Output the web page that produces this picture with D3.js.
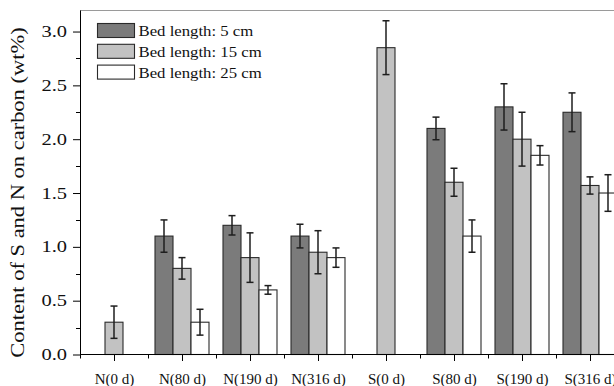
<!DOCTYPE html>
<html>
<head>
<meta charset="utf-8">
<script src="https://cdn.jsdelivr.net/npm/d3@7"></script>
<style>
  body { margin: 0; background: #fff; }
  text { font-family: "Liberation Serif", "Times New Roman", serif; fill: #111; }
</style>
</head>
<body>
<svg width="614" height="386"></svg>
<script>
// categories on the x axis
var categories = ["N(0 d)", "N(80 d)", "N(190 d)", "N(316 d)", "S(0 d)", "S(80 d)", "S(190 d)", "S(316 d)"];
var seriesNames = ["Bed length: 5 cm", "Bed length: 15 cm", "Bed length: 25 cm"];

// bar heights (wt%), null = no bar
var len5  = [null, 1.10, 1.20, 1.10, null, 2.10, 2.30, 2.25];
var len15 = [0.30, 0.80, 0.90, 0.95, 2.85, 1.60, 2.00, 1.57];
var len25 = [null, 0.30, 0.60, 0.90, null, 1.10, 1.85, 1.50];

// error bar half-lengths
var err5  = [null, 0.15, 0.09, 0.11, null, 0.105, 0.215, 0.18];
var err15 = [0.15, 0.10, 0.23, 0.20, 0.25, 0.13, 0.25, 0.08];
var err25 = [null, 0.12, 0.04, 0.09, null, 0.15, 0.09, 0.17];

var yTicks = [0, 0.5, 1.0, 1.5, 2.0, 2.5, 3.0];
var yMinor = [0.25, 0.75, 1.25, 1.75, 2.25, 2.75];

var fills = ["#7b7b7b", "#c2c2c2", "#ffffff"];

(function() {
  var svg = d3.select("svg");
  var mLeft = 80, mBottom = 354.5, mTop = 10, mRight = 624;

  // build rows
  var values = [len5, len15, len25], errs = [err5, err15, err25];
  var data = categories.map(function(c, i) {
    return {
      cat: c,
      bars: seriesNames.map(function(s, k) {
        return { series: s, k: k, value: values[k][i], err: errs[k][i] };
      }).filter(function(b) { return b.value != null; })
    };
  });

  var x0 = d3.scaleBand().domain(categories).range([mLeft, mRight]).padding(0);
  var x1 = d3.scaleBand().domain(seriesNames).range([0, x0.bandwidth()]).paddingOuter(0.389).paddingInner(0);
  var y = d3.scaleLinear().domain([0, 3.2]).range([mBottom, mTop]);

  // frame top line
  svg.append("line")
     .attr("x1", mLeft).attr("x2", mRight)
     .attr("y1", mTop + 0.5).attr("y2", mTop + 0.5)
     .attr("stroke", "#9a9a9a").attr("stroke-width", 1);

  // bars
  var groups = svg.selectAll(".grp")
    .data(data)
    .enter()
    .append("g")
    .attr("class", "grp")
    .attr("transform", function(d) { return "translate(" + x0(d.cat) + ",0)"; });

  groups.selectAll("rect")
    .data(function(d) { return d.bars; })
    .enter()
    .append("rect")
    .attr("x", function(b) { return x1(b.series); })
    .attr("y", function(b) { return y(b.value); })
    .attr("width", x1.bandwidth())
    .attr("height", function(b) { return mBottom - y(b.value); })
    .attr("fill", function(b) { return fills[b.k]; })
    .attr("stroke", "#2a2a2a")
    .attr("stroke-width", 1.1);

  // error bars
  var eb = groups.selectAll(".err")
    .data(function(d) { return d.bars; })
    .enter()
    .append("g")
    .attr("class", "err")
    .attr("stroke", "#1e1e1e")
    .attr("stroke-width", 1.5);

  function cx(b) { return x1(b.series) + x1.bandwidth() / 2; }
  eb.append("line")
    .attr("x1", cx).attr("x2", cx)
    .attr("y1", function(b) { return y(b.value + b.err); })
    .attr("y2", function(b) { return y(b.value - b.err); });
  eb.append("line")
    .attr("x1", function(b) { return cx(b) - 3.5; }).attr("x2", function(b) { return cx(b) + 3.5; })
    .attr("y1", function(b) { return y(b.value + b.err); })
    .attr("y2", function(b) { return y(b.value + b.err); });
  eb.append("line")
    .attr("x1", function(b) { return cx(b) - 3.5; }).attr("x2", function(b) { return cx(b) + 3.5; })
    .attr("y1", function(b) { return y(b.value - b.err); })
    .attr("y2", function(b) { return y(b.value - b.err); });

  // y axis
  var tickSx = 1.28;
  var yAxis = svg.append("g")
    .attr("transform", "translate(" + mLeft + ",0)")
    .call(d3.axisLeft(y).tickValues(yTicks).tickFormat(d3.format(".1f")).tickSize(7).tickSizeOuter(0));
  yAxis.selectAll("text")
    .attr("x", -13 / tickSx)
    .attr("transform", "scale(" + tickSx + ",1)")
    .style("font-size", "16px")
    .style("font-family", "Liberation Serif");

  yAxis.selectAll(".minor")
    .data(yMinor)
    .enter()
    .append("line")
    .attr("class", "minor")
    .attr("x1", -4).attr("x2", 0)
    .attr("y1", function(d) { return Math.round(y(d)) + 0.5; })
    .attr("y2", function(d) { return Math.round(y(d)) + 0.5; })
    .attr("stroke", "#000");

  // x axis
  var xCenter = d3.scalePoint().domain(categories)
    .range([x0(categories[0]) + x0.bandwidth() / 2, x0(categories[categories.length - 1]) + x0.bandwidth() / 2]);
  var xAxis = svg.append("g")
    .attr("transform", "translate(0," + (mBottom - 0.5) + ")")
    .call(d3.axisBottom(xCenter).tickSize(7).tickSizeOuter(0));
  xAxis.select(".domain").attr("d", "M" + mLeft + ",0.5H" + mRight);
  xAxis.selectAll("text")
    .attr("y", 19)
    .style("font-size", "15px")
    .style("font-family", "Liberation Serif");

  var bounds = categories.map(function(c) { return x0(c); }).concat([mRight]);
  xAxis.selectAll(".minor")
    .data(bounds)
    .enter()
    .append("line")
    .attr("class", "minor")
    .attr("x1", function(d) { return Math.round(d) + 0.5; })
    .attr("x2", function(d) { return Math.round(d) + 0.5; })
    .attr("y1", 0).attr("y2", 4.5)
    .attr("stroke", "#000");

  // y axis title
  svg.append("text")
    .attr("transform", "translate(24,192.5) rotate(-90) scale(1.25,1)")
    .attr("text-anchor", "middle")
    .style("font-size", "18px")
    .text("Content of S and N on carbon (wt%)");

  // legend
  var legend = svg.selectAll(".leg")
    .data(seriesNames)
    .enter()
    .append("g")
    .attr("class", "leg")
    .attr("transform", function(d, i) { return "translate(97.5," + (23.5 + i * 20.8) + ")"; });

  legend.append("rect")
    .attr("width", 37).attr("height", 14)
    .attr("fill", function(d, i) { return fills[i]; })
    .attr("stroke", "#2a2a2a")
    .attr("stroke-width", 1.1);

  legend.append("text")
    .attr("transform", "translate(41,12.5) scale(1.08,1)")
    .style("font-size", "15.5px")
    .text(function(d) { return d; });
})();
</script>
</body>
</html>
